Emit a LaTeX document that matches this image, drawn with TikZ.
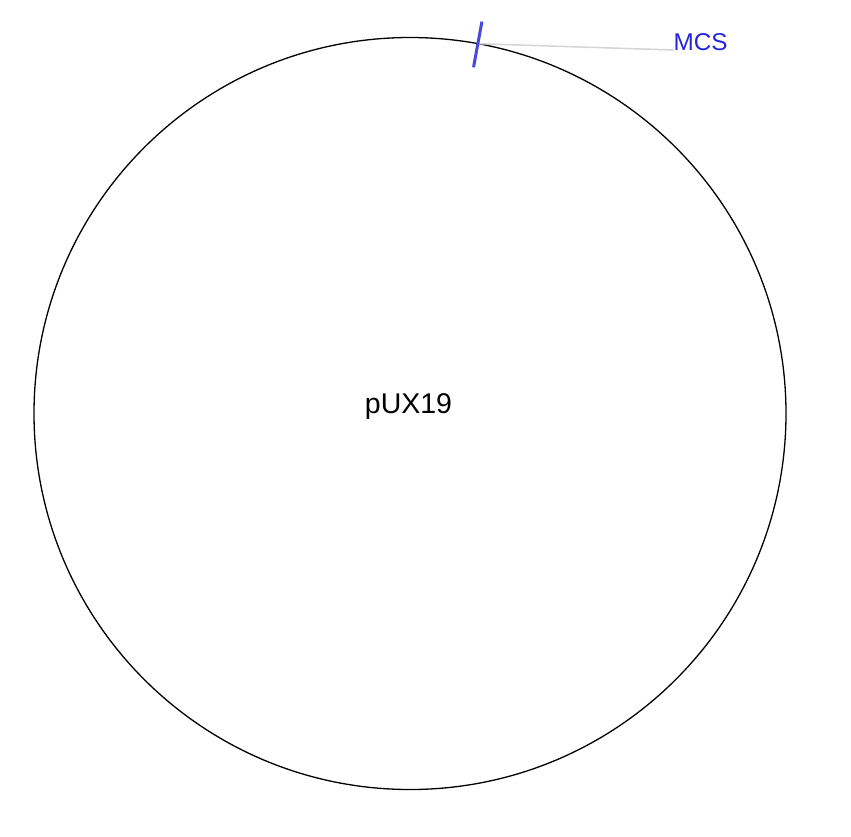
\documentclass[tikz,border=0pt]{standalone}
\usepackage{fontspec}
\setmainfont{Liberation Sans}
\definecolor{mcsline}{RGB}{72,72,222}
\definecolor{mcstext}{RGB}{36,36,220}
\definecolor{leader}{RGB}{212,212,212}
\begin{document}
\begin{tikzpicture}[x=1pt, y=1pt]
\useasboundingbox (0,-836) rectangle (851,0);
\coordinate (ctr) at (410,-413.5);
\draw[black, line width=1.3pt] (ctr) circle (376);
\node[anchor=base, inner sep=0, font=\fontsize{28.5}{32}\selectfont] (name) at (408.5,-413.3) {pUX19};
\begin{scope}[shift={(ctr)}]
\coordinate (cut) at (79.6:376);
\coordinate (tickout) at (79.6:398.5);
\coordinate (tickin) at (79.6:352);
\end{scope}
\node[anchor=base west, inner sep=0, text=mcstext, font=\fontsize{24.3}{28}\selectfont] (mcs) at (673.5,-50) {MCS};
\draw[leader, line width=1.5pt] (cut) -- (mcs.base west);
\draw[mcsline, line width=3pt] (tickin) -- (tickout);
\end{tikzpicture}
\end{document}
